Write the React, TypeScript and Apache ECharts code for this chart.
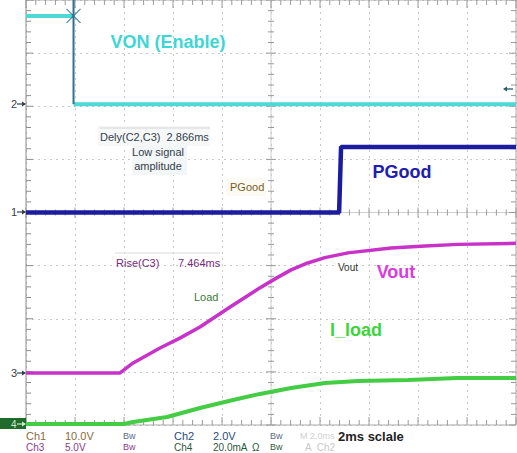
import React, { useEffect, useRef } from "react";
import * as echarts from "echarts";

// ---- Time base (ms) and division settings ----
const X_MIN = 0;
const X_MAX = 20;
const X_DIV = 2; // 2 ms / div
const Y_MIN = -4;
const Y_MAX = 4;

// ---- Channel settings: units per division and ground offset (divisions) ----
const CH1_SCALE = 10; // V/div
const CH1_OFFSET = 2.04;
const CH2_SCALE = 2; // V/div
const CH2_OFFSET = 0;
const CH3_SCALE = 5; // V/div
const CH3_OFFSET = -3.02;
const CH4_SCALE = 20; // mA/div
const CH4_OFFSET = -3.98;

// ---- Waveforms ----
const VON_T = [0, 1.94, 1.94, 20];
const VON_V = [16.6, 16.6, 0, 0];

const PGOOD_T = [0, 12.78, 12.86, 20];
const PGOOD_V = [0, 0, 2.47, 2.47];

const VOUT_T = [0, 3.84, 4.37, 5.47, 6.3, 7.1, 8.33, 9.47, 10.2, 10.82, 11.5, 12.2, 13.14, 14.9, 16.29, 17.63, 20];
const VOUT_V = [0, 0, 0.94, 2.35, 3.3, 4.33, 6.2, 7.9, 8.9, 9.7, 10.35, 10.85, 11.3, 11.75, 11.95, 12.1, 12.2];

const LOAD_T = [0, 4.0, 4.37, 5.76, 7.1, 8.45, 9.55, 10.82, 12.2, 13.55, 15.6, 17.6, 20];
const LOAD_V = [0, 0, 0.75, 2.6, 6.0, 9.0, 11.3, 13.5, 15.4, 16.2, 16.5, 17.3, 17.3];

const toDiv = (v: number, scale: number, offset: number) => v / scale + offset;
const build = (t: number[], v: number[], scale: number, offset: number) =>
  t.map((x, i) => [x, toDiv(v[i], scale, offset)]);

const FONT = "'Liberation Sans', Arial, sans-serif";

function txt(text: string, x: number, y: number, fill: string, size: number, opts: any = {}) {
  return {
    type: "text",
    x,
    y,
    z: 100,
    style: {
      text,
      fill,
      font: `${opts.bold ? "bold " : ""}${size}px ${FONT}`,
      textAlign: opts.align || "left",
      textVerticalAlign: "middle",
      align: opts.align || "left",
      verticalAlign: "middle",
    },
  };
}

export default function App() {
  const ref = useRef<HTMLDivElement>(null);

  useEffect(() => {
    if (!ref.current) return;
    const chart = echarts.init(ref.current, null, { renderer: "svg" });

    const vonPts = build(VON_T, VON_V, CH1_SCALE, CH1_OFFSET);
    // break the cyan trace at the falling edge (edge drawn separately)
    const vonData: any[] = [vonPts[0], vonPts[1], [vonPts[1][0], null], vonPts[2], vonPts[3]];
    const edgeX = VON_T[1];
    const edgeData = [
      [edgeX, Y_MAX],
      [edgeX, toDiv(VON_V[2], CH1_SCALE, CH1_OFFSET)],
    ];
    const markData = [[edgeX, toDiv(VON_V[1], CH1_SCALE, CH1_OFFSET)]];

    const graticule = (params: any, api: any) => {
      const lb = api.coord([X_MIN, Y_MIN]);
      const rt = api.coord([X_MAX, Y_MAX]);
      const c = api.coord([(X_MIN + X_MAX) / 2, 0]);
      const left = lb[0], bottom = lb[1], right = rt[0], top = rt[1];
      const axisC = "#a8a8a8";
      const tickC = "#9a9a9a";
      const ch: any[] = [];
      const ln = (x1: number, y1: number, x2: number, y2: number, color: string) =>
        ch.push({ type: "line", shape: { x1, y1, x2, y2 }, style: { stroke: color, lineWidth: 1 } });
      ln(left, top, left, bottom, "#8c8c8c");
      ln(right, top, right, bottom, axisC);
      ln(left, bottom, right, bottom, axisC);
      ln(left, top, right, top, axisC);
      ln(c[0], top, c[0], bottom, "#d0d0d0");
      ln(left, c[1], right, c[1], "#d0d0d0");
      const xStep = X_DIV / 5;
      const nx = Math.round((X_MAX - X_MIN) / xStep);
      for (let i = 0; i <= nx; i++) {
        const x = api.coord([X_MIN + i * xStep, 0])[0];
        const major = i % 5 === 0;
        ln(x, bottom, x, bottom - (major ? 8 : 5), tickC);
        ln(x, top, x, top + (major ? 8 : 5), tickC);
        ln(x, c[1] - (major ? 5 : 3), x, c[1] + (major ? 5 : 3), tickC);
      }
      const yStep = 0.2;
      const ny = Math.round((Y_MAX - Y_MIN) / yStep);
      for (let j = 0; j <= ny; j++) {
        const y = api.coord([0, Y_MIN + j * yStep])[1];
        const major = j % 5 === 0;
        ln(left, y, left + (major ? 7 : 5), y, "#8c8c8c");
        ln(right, y, right - (major ? 7 : 5), y, tickC);
        ln(c[0] - (major ? 5 : 3), y, c[0] + (major ? 5 : 3), y, tickC);
      }
      return { type: "group", children: ch };
    };

    const arrowRight = (x: number, y: number, color: string) => [
      { type: "line", z: 100, shape: { x1: x, y1: y, x2: x + 8, y2: y }, style: { stroke: color, lineWidth: 1.2 } },
      { type: "polygon", z: 100, shape: { points: [[x + 9, y], [x + 5, y - 2.5], [x + 5, y + 2.5]] }, style: { fill: color } },
    ];

    const graphics: any[] = [
      // measurement text boxes
      { type: "rect", z: 90, shape: { x: 98, y: 126, width: 112, height: 20 }, style: { fill: "#f6f8f8" } },
      { type: "line", z: 91, shape: { x1: 100, y1: 128, x2: 210, y2: 128 }, style: { stroke: "#d4d4d4", lineWidth: 1 } },
      { type: "rect", z: 90, shape: { x: 132, y: 145, width: 55, height: 30 }, style: { fill: "#f2f6f6" } },
      txt("Dely(C2,C3)  2.866ms", 100, 137, "#34404a", 11),
      txt("Low signal", 158, 152, "#34404a", 11, { align: "center" }),
      txt("amplitude", 158, 166, "#34404a", 11, { align: "center" }),
      { type: "rect", z: 90, shape: { x: 226, y: 178, width: 40, height: 18 }, style: { fill: "#fbfbf4" } },
      txt("PGood", 230, 187, "#7a5a1a", 11),
      { type: "line", z: 91, shape: { x1: 115, y1: 253, x2: 220, y2: 253 }, style: { stroke: "#dadada", lineWidth: 1 } },
      txt("Rise(C3)", 116, 263, "#7a2a7a", 11),
      txt("7.464ms", 178, 263, "#7a2a7a", 11),
      txt("Load", 194, 297, "#3a7a3a", 11),
      txt("Vout", 338, 267, "#333333", 10),
      // big channel captions
      txt("VON (Enable)", 168, 42, "#3fd6d6", 18, { bold: true, align: "center" }),
      txt("PGood", 402, 172, "#2020b0", 18, { bold: true, align: "center" }),
      txt("Vout", 396, 272, "#dc3adc", 18, { bold: true, align: "center" }),
      txt("I_load", 356, 330, "#3ad63a", 18, { bold: true, align: "center" }),
      // ground markers
      txt("2", 11, 104, "#34404a", 11),
      ...arrowRight(17, 104, "#34404a"),
      txt("1", 11, 212, "#34404a", 11),
      ...arrowRight(17, 212, "#34404a"),
      txt("3", 11, 373, "#34404a", 11),
      ...arrowRight(17, 373, "#34404a"),
      { type: "rect", z: 95, shape: { x: 0, y: 418, width: 26, height: 11 }, style: { fill: "#1f6b2c" } },
      txt("4", 11, 424, "#cfe8cf", 10),
      ...arrowRight(17, 424, "#cfe8cf"),
      // trigger level marker
      { type: "line", z: 100, shape: { x1: 505, y1: 89, x2: 513, y2: 89 }, style: { stroke: "#245a6a", lineWidth: 1.3 } },
      { type: "polygon", z: 100, shape: { points: [[503, 89], [507, 86.5], [507, 91.5]] }, style: { fill: "#245a6a" } },
      // bottom status
      txt("Ch1", 26, 436, "#8a6a3a", 11),
      txt("10.0V", 65, 436, "#8a6a3a", 11),
      txt("Bw", 123, 436, "#5a6a8a", 9),
      txt("Ch2", 174, 436, "#2a4a7a", 11),
      txt("2.0V", 213, 436, "#2a4a7a", 11),
      txt("Bw", 270, 436, "#5a6a8a", 9),
      txt("M 2.0ms", 300, 436, "#d0d0d0", 9),
      txt("2ms sclale", 338, 436, "#222222", 13, { bold: true }),
      txt("Ch3", 26, 447, "#8a3a8a", 10),
      txt("5.0V", 65, 447, "#8a3a8a", 10),
      txt("Bw", 123, 447, "#8a3a8a", 9),
      txt("Ch4", 174, 447, "#2a5a3a", 10),
      txt("20.0mA", 213, 447, "#2a5a3a", 10),
      txt("Ω", 252, 447, "#2a5a3a", 10),
      txt("Bw", 270, 447, "#2a5a3a", 9),
      txt("A  Ch2", 305, 447, "#c8c8c8", 10),
    ];

    chart.setOption({
      animation: false,
      backgroundColor: "#ffffff",
      grid: { left: 26, top: 0, width: 490, height: 425 },
      xAxis: {
        type: "value",
        min: X_MIN,
        max: X_MAX,
        interval: X_DIV,
        axisLine: { show: false },
        axisTick: { show: false },
        axisLabel: { show: false },
        splitLine: { show: true, lineStyle: { type: [2, 4], color: "#c8c8c8", width: 1 } },
      },
      yAxis: {
        type: "value",
        min: Y_MIN,
        max: Y_MAX,
        interval: 1,
        axisLine: { show: false },
        axisTick: { show: false },
        axisLabel: { show: false },
        splitLine: { show: true, lineStyle: { type: [2, 4], color: "#c8c8c8", width: 1 } },
      },
      graphic: graphics,
      series: [
        {
          type: "custom",
          name: "graticule",
          z: 1,
          silent: true,
          renderItem: graticule,
          data: [[0, 0]],
        },
        {
          type: "line",
          name: "I_load",
          z: 3,
          data: build(LOAD_T, LOAD_V, CH4_SCALE, CH4_OFFSET),
          showSymbol: false,
          lineStyle: { color: "#44cc44", width: 4 },
        },
        {
          type: "line",
          name: "Vout",
          z: 4,
          data: build(VOUT_T, VOUT_V, CH3_SCALE, CH3_OFFSET),
          showSymbol: false,
          lineStyle: { color: "#c832c8", width: 3.5 },
        },
        {
          type: "line",
          name: "PGood",
          z: 5,
          data: build(PGOOD_T, PGOOD_V, CH2_SCALE, CH2_OFFSET),
          showSymbol: false,
          lineStyle: { color: "#1c1ca0", width: 4.5 },
        },
        {
          type: "line",
          name: "VON",
          z: 6,
          data: vonData,
          connectNulls: false,
          showSymbol: false,
          lineStyle: { color: "#4fd8d8", width: 4 },
        },
        {
          type: "line",
          name: "VON edge",
          z: 7,
          data: edgeData,
          showSymbol: false,
          lineStyle: { color: "#2a7290", width: 2 },
        },
        {
          type: "scatter",
          name: "cursor",
          z: 8,
          data: markData,
          symbol: "path://M0 0L10 10M10 0L0 10",
          symbolSize: 14,
          itemStyle: { color: "transparent", borderColor: "#2a6a80", borderWidth: 1.2 },
        },
      ],
    });

    return () => chart.dispose();
  }, []);

  return (
    <div
      ref={ref}
      style={{ position: "fixed", left: 0, top: 0, width: 517, height: 453, background: "#fff" }}
    />
  );
}
